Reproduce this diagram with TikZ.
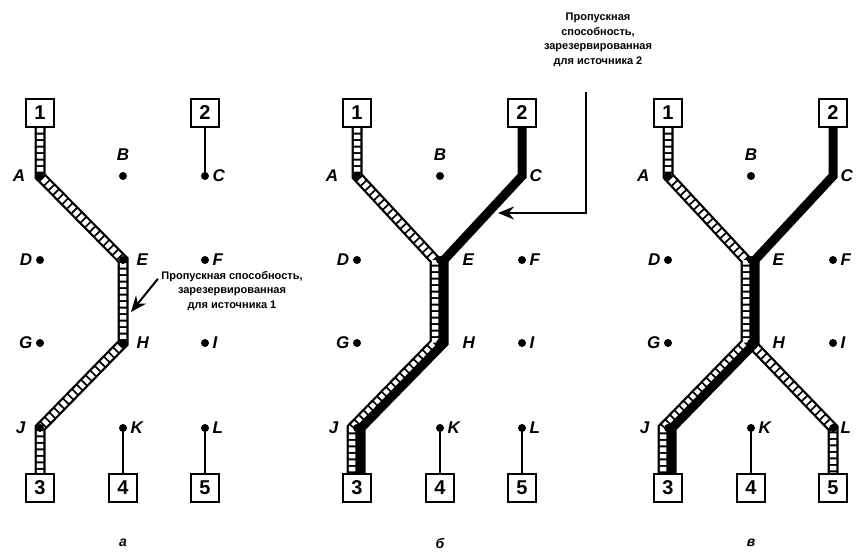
\documentclass[tikz,border=0pt]{standalone}
\usepackage{fontspec}
\setmainfont{Liberation Sans}
\usetikzlibrary{arrows.meta,backgrounds}

\tikzset{
  srcbox/.style={draw, line width=2.4pt, minimum size=28pt, inner sep=0pt,
    font=\fontsize{20}{20}\selectfont\bfseries},
  router/.style={circle, fill, inner sep=0pt, minimum size=8pt, label distance=6pt},
  every label/.style={font=\fontsize{17}{17}\selectfont\bfseries\itshape},
  ladder/.style={line width=11pt,
    postaction={draw=white, line width=6.5pt, dash pattern=on 4.5pt off 2pt}},
  heavy/.style={line width=9pt},
  plain/.style={line width=2.6pt},
  pointer/.style={line width=2pt, -{Stealth[length=16pt,width=13pt]}},
  note/.style={align=center, font=\fontsize{11}{14.5}\selectfont\bfseries},
  caption/.style={font=\fontsize{14}{14}\selectfont\bfseries\itshape}
}

% one network: sources 1..5 and routers A..L
\newcommand{\netgrid}[2]{%
  \node[srcbox] (s1) at (40,113) {1};
  \node[srcbox] (s2) at (205,113) {2};
  \node[srcbox] (s3) at (40,488) {3};
  \node[srcbox] (s4) at (123,488) {4};
  \node[srcbox] (s5) at (205,488) {5};
  \foreach \n/\x/\y/\p in {C/205/176/right,
      D/40/260/left, F/205/260/right, G/40/343/left, I/205/343/right,
      K/123/428/right, L/205/428/right}
    \node[router, label=\p:\n] (\n) at (\x,\y) {};
  \node[router, label={[label distance=#2]left:A}] (A) at (40,176) {};
  \node[router, label={[label distance=#2]left:J}] (J) at (40,428) {};
  \node[router, label={[label distance=8pt]above:B}] (B) at (123,176) {};
  \node[router, label={[label distance=#1]right:E}] (E) at (123,260) {};
  \node[router, label={[label distance=#1]right:H}] (H) at (123,343) {};
}

\begin{document}
\begin{tikzpicture}[x=1pt, y=-1pt]
\useasboundingbox (0,0) rectangle (858,552);

% a: source 1 only
\begin{scope}[name prefix=a-]
  \netgrid{6pt}{7pt}
  \begin{pgfonlayer}{background}
    \draw[ladder] (s1) -- (A.center) -- (E.center) -- (H.center) -- (J.center) -- (s3);
    \draw[plain] (s2) -- (C.center);
    \draw[plain] (K.center) -- (s4);
    \draw[plain] (L.center) -- (s5);
  \end{pgfonlayer}
  \node[caption] (cap) at (123,543) {а};
\end{scope}

% b: sources 1 and 2 to 3
\begin{scope}[xshift=317pt, name prefix=b-]
  \netgrid{15pt}{11pt}
  \begin{pgfonlayer}{background}
    \draw[ladder] (s1) -- (A.center) -- ([xshift=-5pt]E.center) -- ([xshift=-5pt]H.center)
      -- ([xshift=-5pt]J.center) -- ([xshift=-5pt]s3.north);
    \draw[heavy] (s2) -- (C.center) -- ([xshift=4pt]E.center) -- ([xshift=4pt]H.center)
      -- ([xshift=4pt]J.center) -- ([xshift=4pt]s3.north);
    \draw[plain] (K.center) -- (s4);
    \draw[plain] (L.center) -- (s5);
  \end{pgfonlayer}
  \node[caption] (cap) at (123,543) {б};
\end{scope}

% c: source 1 to 3 and 5, source 2 to 3
\begin{scope}[xshift=628pt, name prefix=c-]
  \netgrid{14pt}{11pt}
  \begin{pgfonlayer}{background}
    \draw[ladder] (s1) -- (A.center) -- ([xshift=-5pt]E.center) -- ([xshift=-5pt]H.center)
      -- ([xshift=-5pt]J.center) -- ([xshift=-5pt]s3.north);
    \draw[ladder] (H.center) -- (L.center) -- (s5);
    \draw[heavy] (s2) -- (C.center) -- ([xshift=4pt]E.center) -- ([xshift=4pt]H.center)
      -- ([xshift=4pt]J.center) -- ([xshift=4pt]s3.north);
    \draw[plain] (K.center) -- (s4);
  \end{pgfonlayer}
  \node[caption] (cap) at (123,543) {в};
\end{scope}

% notes
\node[note] (note1) at (232,291) {Пропускная способность,\\зарезервированная\\для источника 1};
\coordinate (tip1) at (131,312);
\draw[pointer] ([yshift=-11pt]note1.north west) -- (tip1);

\node[note] (note2) at (598,40) {Пропускная\\способность,\\зарезервированная\\для источника 2};
\coordinate (tip2) at (498,213);
\draw[pointer] ([xshift=-12pt,yshift=-22pt]note2.south) |- (tip2);
\end{tikzpicture}
\end{document}
